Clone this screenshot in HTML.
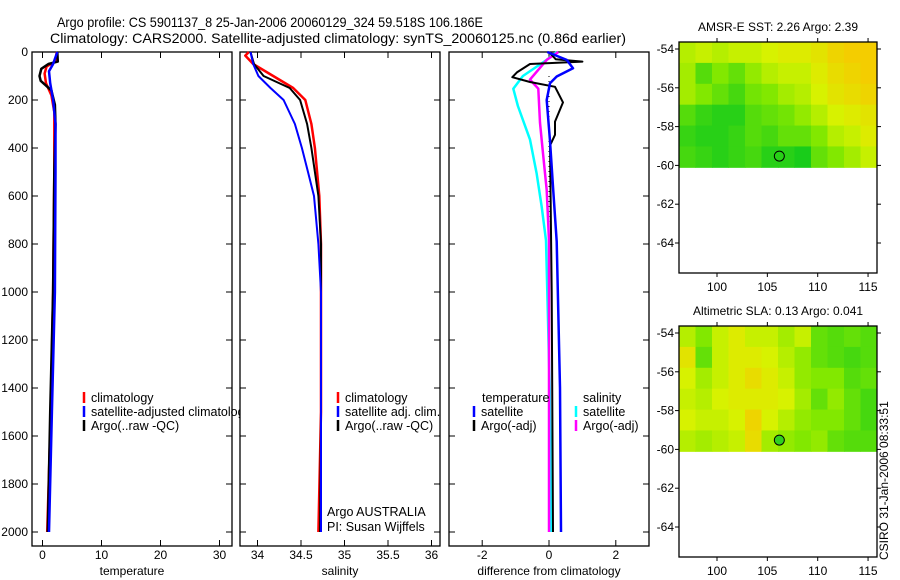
<!DOCTYPE html>
<html><head><meta charset="utf-8"><style>
html,body{margin:0;padding:0;background:#fff}
svg{display:block;font-family:"Liberation Sans",sans-serif}
</style></head><body>
<svg id="fig" width="900" height="580" viewBox="0 0 900 580">
<g id="titles" font-size="14" text-anchor="middle">
<text x="270" y="27" textLength="426" lengthAdjust="spacingAndGlyphs">Argo profile: CS 5901137_8 25-Jan-2006 20060129_324 59.518S 106.186E</text>
<text x="338" y="43" textLength="576" lengthAdjust="spacingAndGlyphs">Climatology: CARS2000. Satellite-adjusted climatology: synTS_20060125.nc (0.86d earlier)</text>
</g>
<defs><clipPath id="clip1"><rect x="0" y="0" width="240" height="580"/></clipPath></defs>
</svg>
<script>
// ---- data ----
const depthTicks=[0,200,400,600,800,1000,1200,1400,1600,1800,2000];
const tempTicks=[0,10,20,30];
const salTicks=[34,34.5,35,35.5,36];
const salTickLabels=["34","34.5","35","35.5","36"];
const diffTicks=[-2,0,2];
// temperature profiles
const tClimDepth=[0,40,60,90,130,180,250,500,1000,1500,2000];
const tClimVal=[2.4,2.2,0.7,0.35,0.6,1.5,2.0,2.0,1.8,1.4,0.8];
const tSatDepth=[0,50,80,130,200,300,500,1000,1500,2000];
const tSatVal=[2.5,1.8,1.1,1.3,1.8,2.2,2.2,2.1,1.6,1.1];
const tArgoDepth=[0,40,50,70,100,120,160,220,300,500,1000,1500,2000];
const tArgoVal=[2.5,2.6,1.0,-0.2,-0.5,-0.3,1.5,2.1,2.2,2.0,1.8,1.3,0.9];
// salinity profiles
const sClimDepth=[0,15,50,100,150,200,300,400,600,800,1500,2000];
const sClimVal=[33.9,33.86,33.95,34.18,34.41,34.55,34.62,34.66,34.71,34.73,34.73,34.70];
const sArgoDepth=[0,50,100,150,200,300,400,600,800,1500,2000];
const sArgoVal=[33.92,33.96,34.07,34.37,34.49,34.57,34.62,34.70,34.73,34.73,34.72];
const sSatDepth=[0,50,100,150,200,300,400,500,600,800,1000,2000];
const sSatVal=[33.92,33.95,34.01,34.15,34.30,34.43,34.51,34.58,34.65,34.70,34.73,34.73];
// differences from climatology
const dTArgoDepth=[0,30,40,50,85,105,125,145,210,290,345,390,1000,2000];
const dTArgoVal=[0,0.2,1.0,-0.57,-0.96,-1.1,-0.57,0.18,0.42,0.18,0.18,0.03,0.08,0.12];
const dTSatDepth=[0,33,68,102,130,200,370,580,790,1400,2000];
const dTSatVal=[-0.05,0.53,0.72,0.23,0.03,-0.07,0.03,0.13,0.23,0.33,0.36];
const dSSatDepth=[0,33,100,153,225,365,505,645,785,1400,2000];
const dSSatVal=[0.23,-0.07,-0.78,-1.07,-0.93,-0.57,-0.37,-0.22,-0.09,0.02,0.07];
const dSArgoDepth=[0,33,115,153,295,435,575,785,2000];
const dSArgoVal=[0.28,-0.07,-0.57,-0.32,-0.27,-0.17,-0.07,0,0];
// maps
const lonTicks=[100,105,110,115];
const latTicks=[-54,-56,-58,-60,-62,-64];
const floatLon=106.19, floatLat=-59.52;
const sstGrid=[
[0.55,0.6,0.55,0.6,0.6,0.65,0.7,0.7,0.75,0.85,0.9,0.9],
[0.5,0.25,0.4,0.3,0.45,0.55,0.6,0.6,0.7,0.8,0.85,0.9],
[0.5,0.4,0.3,0.2,0.35,0.4,0.5,0.55,0.65,0.75,0.8,0.85],
[0.25,0.15,0.1,0.1,0.25,0.3,0.35,0.45,0.55,0.65,0.7,0.75],
[0.15,0.1,0.1,0.15,0.25,0.2,0.3,0.3,0.4,0.55,0.6,0.7],
[0.2,0.15,0.1,0.15,0.2,0.1,0.1,0.05,0.3,0.4,0.5,0.6]];
const slaGrid=[
[0.55,0.4,0.6,0.7,0.6,0.6,0.5,0.6,0.3,0.25,0.3,0.25],
[0.75,0.3,0.6,0.7,0.7,0.65,0.55,0.45,0.3,0.25,0.2,0.25],
[0.65,0.5,0.6,0.7,0.8,0.7,0.6,0.45,0.4,0.4,0.25,0.3],
[0.6,0.55,0.65,0.7,0.7,0.7,0.65,0.5,0.3,0.45,0.3,0.2],
[0.65,0.6,0.6,0.65,0.85,0.65,0.55,0.45,0.4,0.4,0.3,0.2],
[0.55,0.5,0.55,0.6,0.8,0.5,0.45,0.4,0.45,0.3,0.25,0.25]];

// ---- drawing ----
const NS="http://www.w3.org/2000/svg";
const svg=document.getElementById('fig');
function mk(tag,attrs,parent){const e=document.createElementNS(NS,tag);for(const k in attrs)e.setAttribute(k,attrs[k]);(parent||svg).appendChild(e);return e;}
const Y0=52,Y1=546;
const yD=d=>52+d*0.24;
const panels=[
 {x0:32,x1:232,f:v=>42.5+v*5.9,name:'temperature-panel'},
 {x0:240,x1:440,f:v=>257.5+(v-34)*87,name:'salinity-panel'},
 {x0:449,x1:649,f:v=>549+v*33.4,name:'difference-panel'}];
const tickSets=[tempTicks,salTicks,diffTicks];
const tickLabs=[tempTicks.map(String),salTickLabels,diffTicks.map(String)];
const xTitles=['temperature','salinity','difference from climatology'];
panels.forEach((p,i)=>{
 const g=mk('g',{});
 
 
 const r=mk('rect',{x:p.x0,y:Y0,width:p.x1-p.x0,height:Y1-Y0,fill:'none',stroke:'#000','stroke-width':1.3},g);
 
 
 tickSets[i].forEach((t,j)=>{
  const x=p.f(t);
  mk('line',{x1:x,x2:x,y1:Y1,y2:Y1-6,stroke:'#000'},g);
  mk('line',{x1:x,x2:x,y1:Y0,y2:Y0+6,stroke:'#000'},g);
  const tx=mk('text',{x:x,y:559,'font-size':12,'text-anchor':'middle'},g);
  tx.textContent=tickLabs[i][j];
  
  
 });
 depthTicks.forEach(d=>{
  const y=yD(d);
  mk('line',{x1:p.x0,x2:p.x0+6,y1:y,y2:y,stroke:'#000'},g);
  mk('line',{x1:p.x1,x2:p.x1-6,y1:y,y2:y,stroke:'#000'},g);
  if(i===0){const tx=mk('text',{x:28,y:y+4,'font-size':12,'text-anchor':'end'},g);tx.textContent=d;
   
   }
 });
 const xt=mk('text',{x:(p.x0+p.x1)/2,y:575,'font-size':12,'text-anchor':'middle'},g);
 xt.textContent=xTitles[i];
 
 
});
function line(p,depths,vals,color,w,name,dash){
 const pts=depths.map((d,k)=>p.f(vals[k]).toFixed(1)+','+yD(d).toFixed(1)).join(' ');
 const e=mk('polyline',{points:pts,fill:'none',stroke:color,'stroke-width':w,'stroke-linejoin':'round'});
 if(dash)e.setAttribute('stroke-dasharray',dash);
 
 
}
const [P1,P2,P3]=panels;
line(P1,tClimDepth,tClimVal,'#f00',2.5,'temp-climatology-line');
line(P1,tArgoDepth,tArgoVal,'#000',2.5,'temp-argo-line');
line(P1,tSatDepth,tSatVal,'#00f',2.5,'temp-satellite-line');
line(P2,sClimDepth,sClimVal,'#f00',2.5,'sal-climatology-line');
line(P2,sArgoDepth,sArgoVal,'#000',2,'sal-argo-line');
line(P2,sSatDepth,sSatVal,'#00f',2,'sal-satellite-line');
line(P3,[100,2000],[0,0],'#000',1,'zero-reference-line','1,4');
line(P3,dSSatDepth,dSSatVal,'#0ff',2.5,'diff-sal-satellite-line');
line(P3,dSArgoDepth,dSArgoVal,'#f0f',2.5,'diff-sal-argo-line');
line(P3,dTArgoDepth,dTArgoVal,'#000',2,'diff-temp-argo-line');
line(P3,dTSatDepth,dTSatVal,'#00f',2.5,'diff-temp-satellite-line');

function legend(x,y,color,label,name,clip){
 const g=mk('g',{});
 
 
 if(clip)g.setAttribute('clip-path','url(#clip1)');
 if(color)mk('line',{x1:x,x2:x,y1:y-10,y2:y+1,stroke:color,'stroke-width':2.5},g);
 const t=mk('text',{x:x+(color?7:0),y:y,'font-size':12.5},g);t.textContent=label;
}
legend(84,402,'#f00','climatology','legend-entry-climatology');
legend(84,416,'#00f','satellite-adjusted climatology','legend-entry-satellite',true);
legend(84,430,'#000','Argo(..raw -QC)','legend-entry-argo');
legend(338,402,'#f00','climatology','legend-entry-climatology');
legend(338,416,'#00f','satellite adj. clim.','legend-entry-satellite');
legend(338,430,'#000','Argo(..raw -QC)','legend-entry-argo');
legend(482,402,null,'temperature','legend-header-temperature');
legend(474,416,'#00f','satellite','legend-entry-temp-satellite');
legend(474,430,'#000','Argo(-adj)','legend-entry-temp-argo');
legend(583,402,null,'salinity','legend-header-salinity');
legend(576,416,'#0ff','satellite','legend-entry-sal-satellite');
legend(576,430,'#f0f','Argo(-adj)','legend-entry-sal-argo');
legend(327,516,null,'Argo AUSTRALIA','argo-agency-note');
legend(327,531,null,'PI: Susan Wijffels','pi-note');

// maps
function col(v){
 const st=[[0,[10,200,30]],[0.4,[130,232,0]],[0.65,[215,242,0]],[1,[255,190,0]]];
 for(let i=1;i<st.length;i++){if(v<=st[i][0]){const a=st[i-1],b=st[i],t=(v-a[0])/(b[0]-a[0]);
  return 'rgb('+a[1].map((c,k)=>Math.round(c+(b[1][k]-c)*t)).join(',')+')';}}
 return 'rgb(255,190,0)';
}
function map(top,grid,title,name,dotFill){
 const L=679,R=877,B=top+231;
 const lx=v=>717+(v-100)*10.07, ly=v=>top+7+(-54-v)*19.4;
 const g=mk('g',{});
 
 
 const rows=grid.length,cols=grid[0].length,h=(ly(-60.1)-top)/rows,w=(R-L)/cols;
 grid.forEach((row,r)=>row.forEach((v,c)=>{
  const e=mk('rect',{x:L+c*w,y:top+r*h,width:w+0.5,height:h+0.5,fill:col(v)},g);
  
  
 }));
 mk('rect',{x:L,y:top,width:R-L,height:B-top,fill:'none',stroke:'#000','stroke-width':1.3},g);
 lonTicks.forEach(v=>{const x=lx(v);
  mk('line',{x1:x,x2:x,y1:top,y2:top-4,stroke:'#000'},g);
  mk('line',{x1:x,x2:x,y1:B,y2:B+4,stroke:'#000'},g);
  const t=mk('text',{x:x,y:B+18,'font-size':12,'text-anchor':'middle'},g);t.textContent=v;
  
  });
 latTicks.forEach(v=>{const y=ly(v);
  mk('line',{x1:L,x2:L-4,y1:y,y2:y,stroke:'#000'},g);
  mk('line',{x1:R,x2:R+4,y1:y,y2:y,stroke:'#000'},g);
  const t=mk('text',{x:L-5,y:y+4,'font-size':12,'text-anchor':'end'},g);t.textContent=v;
  
  });
 const c=mk('circle',{cx:lx(floatLon),cy:ly(floatLat),r:5,fill:dotFill,stroke:'#000','stroke-width':1},g);
 
 
 const t=mk('text',{x:(L+R)/2,y:top-11,'font-size':12,'text-anchor':'middle'},g);t.textContent=title;
 
 
}
map(42,sstGrid,'AMSR-E SST: 2.26 Argo: 2.39','sst-map','none');
map(326,slaGrid,'Altimetric SLA: 0.13 Argo: 0.041','sla-map','#30d020');
const cs=mk('text',{x:0,y:0,'font-size':12,transform:'translate(888,560) rotate(-90)'});
cs.textContent='CSIRO 31-Jan-2006 08:33:51';


</script>
</body></html>
